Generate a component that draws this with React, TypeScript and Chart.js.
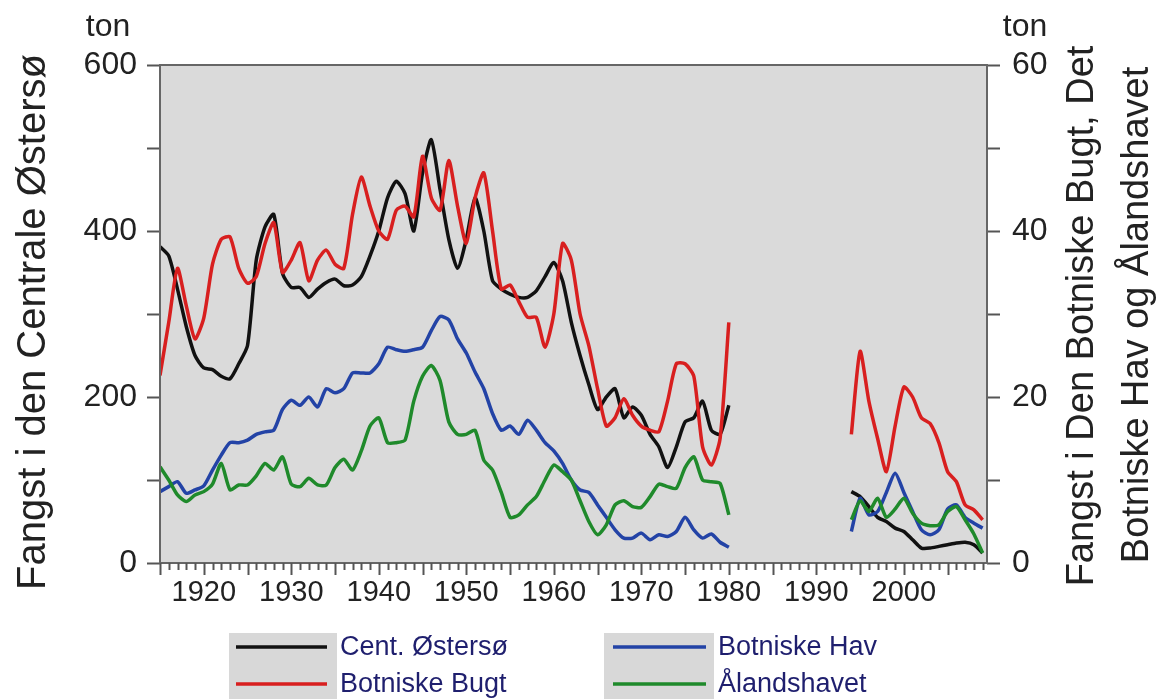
import React, { useEffect, useRef } from 'react';
import { Chart, registerables } from 'chart.js';

Chart.register(...registerables);

const FONT = '"Liberation Sans", Arial, Helvetica, sans-serif';

// Years
const yearsEarly = [
  1915, 1916, 1917, 1918, 1919, 1920, 1921, 1922, 1923, 1924, 1925, 1926, 1927, 1928, 1929,
  1930, 1931, 1932, 1933, 1934, 1935, 1936, 1937, 1938, 1939, 1940, 1941, 1942, 1943, 1944,
  1945, 1946, 1947, 1948, 1949, 1950, 1951, 1952, 1953, 1954, 1955, 1956, 1957, 1958, 1959,
  1960, 1961, 1962, 1963, 1964, 1965, 1966, 1967, 1968, 1969, 1970, 1971, 1972, 1973, 1974,
  1975, 1976, 1977, 1978, 1979, 1980,
];
const yearsLate = [1994, 1995, 1996, 1997, 1998, 1999, 2000, 2001, 2002, 2003, 2004, 2005, 2006, 2007, 2008, 2009];
const gapYear = 1987;

// Cent. Østersø (left axis, ton)
const centralEarly = [
  381, 370, 330, 285, 250, 235, 233, 225, 222, 240, 262, 365, 405, 420, 349,
  332, 332, 320, 330, 338, 342, 334, 335, 345, 370, 400, 440, 460, 445, 400,
  470, 510, 450, 390, 355, 390, 440, 400, 340, 330, 324, 320, 320, 328, 345,
  362, 340, 290, 250, 215, 185, 200, 210, 175, 188, 178, 155, 140, 115, 140,
  170, 175, 195, 160, 155, 190,
];
const centralLate = [86, 80, 68, 55, 50, 42, 38, 28, 18, 18, 20, 22, 24, 25, 22, 12];

// Botniske Bugt (right axis, ton)
const bugtEarly = [
  22.6, 29.0, 35.5, 31.0, 27.0, 29.5, 36.0, 39.0, 39.3, 35.5, 33.7, 34.5, 38.5, 41.0, 35.0,
  36.5, 38.6, 34.0, 36.5, 37.7, 36.0, 35.5, 42.0, 46.5, 43.0, 40.0, 39.0, 42.5, 43.0, 41.7,
  49.0, 44.0, 42.5, 48.5, 43.0, 38.5, 44.0, 47.0, 40.0, 33.0, 33.5, 31.5, 29.6, 29.6, 26.0,
  30.0, 38.5, 36.5, 30.0, 26.2, 21.0, 16.5, 17.5, 19.8, 17.8, 16.5, 16.0, 15.8, 19.5, 24.0,
  24.0, 22.5, 14.0, 11.8, 15.0, 29.0,
];
const bugtLate = [15.5, 25.5, 19.5, 15.0, 11.0, 16.5, 21.2, 20.0, 17.5, 16.8, 14.5, 11.0, 9.8, 7.0, 6.4, 5.2];

// Botniske Hav (right axis, ton)
const havEarly = [
  8.6, 9.2, 9.8, 8.4, 8.8, 9.3, 11.2, 13.0, 14.5, 14.5, 14.8, 15.5, 15.8, 16.0, 18.5,
  19.6, 19.0, 20.0, 18.8, 21.0, 20.5, 21.0, 22.9, 22.9, 22.9, 24.0, 26.0, 25.7, 25.5, 25.7,
  26.0, 28.0, 29.7, 29.3, 27.0, 25.3, 23.0, 21.0, 18.0, 16.0, 16.5, 15.5, 17.2, 16.0, 14.5,
  13.5, 12.0, 10.0, 8.8, 8.5, 7.0, 5.5, 4.0, 3.0, 3.0, 3.6, 2.8, 3.4, 3.2, 3.8,
  5.5, 4.0, 3.0, 3.5, 2.5, 1.9,
];
const havLate = [3.8, 7.8, 5.8, 6.2, 8.5, 10.8, 8.5, 6.2, 4.0, 3.4, 4.0, 6.5, 7.0, 5.5, 4.8, 4.2];

// Ålandshavet (right axis, ton)
const aalandEarly = [
  11.6, 10.0, 8.2, 7.4, 8.2, 8.6, 9.5, 12.0, 8.8, 9.4, 9.4, 10.5, 12.0, 11.2, 12.8,
  9.5, 9.2, 10.2, 9.4, 9.4, 11.5, 12.5, 11.2, 13.5, 16.5, 17.5, 14.5, 14.5, 14.8, 19.5,
  22.5, 23.8, 22.0, 17.0, 15.5, 15.5, 16.0, 12.4, 11.2, 8.5, 5.5, 5.8, 7.0, 8.0, 10.0,
  11.8, 11.0, 10.0, 7.5, 5.0, 3.4, 4.6, 7.0, 7.5, 6.8, 6.7, 8.0, 9.5, 9.2, 9.0,
  11.5, 12.8, 10.0, 9.8, 9.6, 5.8,
];
const aalandLate = [5.2, 7.5, 6.2, 7.8, 5.5, 6.5, 7.8, 6.0, 4.8, 4.5, 4.6, 6.2, 6.8, 5.2, 3.5, 1.2];

const seriesLabels = ['Cent. Østersø', 'Botniske Bugt', 'Botniske Hav', 'Ålandshavet'];
const seriesColors = ['#111111', '#d81f1f', '#2343a6', '#1f8a2b'];

const xTickLabels = [1920, 1930, 1940, 1950, 1960, 1970, 1980, 1990, 2000];
const leftTickLabels = [0, 200, 400, 600];
const rightTickLabels = [0, 20, 40, 60];

const leftTitle = 'Fangst i den Centrale Østersø';
const rightTitleLines = ['Fangst i Den Botniske Bugt, Det', 'Botniske Hav og Ålandshavet'];
const unitLabel = 'ton';

function toPoints(ye: number[], ve: number[], yl: number[], vl: number[]) {
  const a = ye.map((x, i) => ({ x, y: ve[i] as number | null }));
  const b = yl.map((x, i) => ({ x, y: vl[i] as number | null }));
  return [...a, { x: gapYear, y: null }, ...b];
}

const decorPlugin = {
  id: 'decor',
  beforeDatasetsDraw(chart: any) {
    const { ctx, chartArea } = chart;
    ctx.save();
    ctx.fillStyle = '#dadada';
    ctx.fillRect(chartArea.left, chartArea.top, chartArea.right - chartArea.left, chartArea.bottom - chartArea.top);
    ctx.restore();
  },
  afterDraw(chart: any) {
    const { ctx, chartArea, scales } = chart;
    const xs = scales.x;
    ctx.save();
    // frame
    ctx.strokeStyle = '#666';
    ctx.lineWidth = 2;
    ctx.strokeRect(chartArea.left, chartArea.top, chartArea.right - chartArea.left, chartArea.bottom - chartArea.top);
    // x tick marks
    ctx.strokeStyle = '#555';
    ctx.lineWidth = 2;
    for (let yr = Math.ceil(xs.min); yr <= xs.max; yr++) {
      const px = Math.round(xs.getPixelForValue(yr)) + 0.5;
      const len = yr % 5 === 0 ? 12 : 7;
      ctx.beginPath();
      ctx.moveTo(px, chartArea.bottom);
      ctx.lineTo(px, chartArea.bottom + len);
      ctx.stroke();
    }
    // unit labels
    ctx.fillStyle = '#222';
    ctx.font = `32px ${FONT}`;
    ctx.textAlign = 'center';
    ctx.textBaseline = 'alphabetic';
    ctx.fillText(unitLabel, 108, 36);
    ctx.fillText(unitLabel, 1025, 36);
    // left title
    ctx.save();
    ctx.font = `40px ${FONT}`;
    ctx.translate(45, 322);
    ctx.rotate(-Math.PI / 2);
    ctx.fillText(leftTitle, 0, 0);
    ctx.restore();
    // right titles
    ctx.font = `38px ${FONT}`;
    const rx = [1093, 1148];
    const ry = [316, 315];
    rightTitleLines.forEach((t, i) => {
      ctx.save();
      ctx.translate(rx[i], ry[i]);
      ctx.rotate(-Math.PI / 2);
      ctx.fillText(t, 0, 0);
      ctx.restore();
    });
    // legend
    const boxes = [
      { x: 229, y: 633, w: 108, h: 66, lx0: 236, lx1: 327, tx: 340 },
      { x: 604, y: 633, w: 110, h: 66, lx0: 613, lx1: 706, tx: 718 },
    ];
    const rowY = [647, 684];
    ctx.font = `27px ${FONT}`;
    ctx.textAlign = 'left';
    ctx.textBaseline = 'middle';
    boxes.forEach((b, bi) => {
      ctx.fillStyle = '#d8d8d8';
      ctx.fillRect(b.x, b.y, b.w, b.h);
      rowY.forEach((ry2, ri) => {
        const si = bi * 2 + ri;
        ctx.strokeStyle = seriesColors[si];
        ctx.lineWidth = 3.5;
        ctx.beginPath();
        ctx.moveTo(b.lx0, ry2);
        ctx.lineTo(b.lx1, ry2);
        ctx.stroke();
        ctx.fillStyle = '#1f1f6e';
        ctx.fillText(seriesLabels[si], b.tx, ry2 + 1);
      });
    });
    ctx.restore();
  },
};

export default function App() {
  const ref = useRef<HTMLCanvasElement | null>(null);
  useEffect(() => {
    if (!ref.current) return;
    const series = [
      { data: toPoints(yearsEarly, centralEarly, yearsLate, centralLate), axis: 'y' },
      { data: toPoints(yearsEarly, bugtEarly, yearsLate, bugtLate), axis: 'y2' },
      { data: toPoints(yearsEarly, havEarly, yearsLate, havLate), axis: 'y2' },
      { data: toPoints(yearsEarly, aalandEarly, yearsLate, aalandLate), axis: 'y2' },
    ];
    const datasets = series.map((s, i) => ({
      label: seriesLabels[i],
      data: s.data,
      yAxisID: s.axis,
      borderColor: seriesColors[i],
      backgroundColor: seriesColors[i],
      borderWidth: 3.5,
      pointRadius: 0,
      tension: 0.22,
      spanGaps: false,
      fill: false,
      order: [4, 3, 2, 1][i],
    }));
    const tickFont = { family: FONT, size: 32 };
    const chart = new Chart(ref.current, {
      type: 'line',
      data: { datasets } as any,
      options: {
        animation: false,
        responsive: false,
        maintainAspectRatio: false,
        layout: { padding: { top: 65, left: 0, right: 0, bottom: 0 } },
        plugins: { legend: { display: false }, tooltip: { enabled: false } },
        scales: {
          x: {
            type: 'linear',
            min: 1915,
            max: 2009.5,
            afterFit: (s: any) => { s.height = 137; },
            afterBuildTicks: (s: any) => { s.ticks = xTickLabels.map((v) => ({ value: v })); },
            grid: { display: false },
            border: { display: false },
            ticks: {
              autoSkip: false,
              maxRotation: 0,
              padding: 5,
              color: '#222',
              font: { family: FONT, size: 29 },
              callback: (v: any) => String(v),
            },
          },
          y: {
            type: 'linear',
            position: 'left',
            min: 0,
            max: 600,
            afterFit: (s: any) => { s.width = 160; },
            grid: { drawOnChartArea: false, drawTicks: true, tickLength: 13, tickWidth: 2, tickColor: '#555', color: '#555' },
            border: { display: false },
            ticks: {
              stepSize: 100,
              padding: 10,
              color: '#222',
              font: tickFont,
              callback: (v: any) => (leftTickLabels.includes(Number(v)) ? String(v) : ''),
            },
          },
          y2: {
            type: 'linear',
            position: 'right',
            min: 0,
            max: 60,
            afterFit: (s: any) => { s.width = 175; },
            grid: { drawOnChartArea: false, drawTicks: true, tickLength: 13, tickWidth: 2, tickColor: '#555', color: '#555' },
            border: { display: false },
            ticks: {
              stepSize: 10,
              padding: 12,
              color: '#222',
              font: tickFont,
              callback: (v: any) => (rightTickLabels.includes(Number(v)) ? String(v) : ''),
            },
          },
        },
      } as any,
      plugins: [decorPlugin],
    });
    return () => chart.destroy();
  }, []);
  return (
    <div style={{ position: 'fixed', left: 0, top: 0, width: 1162, height: 700, background: '#fff' }}>
      <canvas ref={ref} width={1162} height={700} style={{ width: 1162, height: 700, display: 'block' }} />
    </div>
  );
}
